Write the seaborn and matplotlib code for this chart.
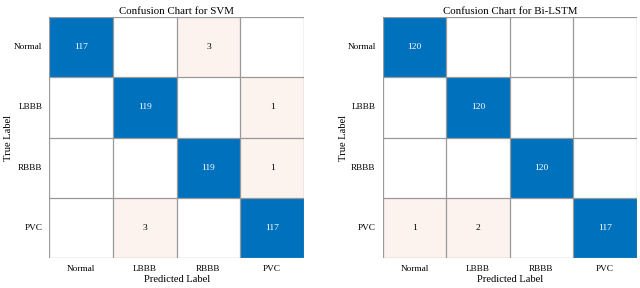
import numpy as np
import seaborn as sns
import matplotlib.pyplot as plt
from matplotlib.colors import ListedColormap

classes = ['Normal', 'LBBB', 'RBBB', 'PVC']
svm_counts = [[117, 0, 3, 0],
              [0, 119, 0, 1],
              [0, 0, 119, 1],
              [0, 3, 0, 117]]
lstm_counts = [[120, 0, 0, 0],
               [0, 120, 0, 0],
               [0, 0, 120, 0],
               [1, 2, 0, 117]]
titles = ['Confusion Chart for SVM', 'Confusion Chart for Bi-LSTM']

plt.rcParams['font.family'] = ['Liberation Serif', 'DejaVu Serif']

fig = plt.figure(figsize=(6.4, 2.88), dpi=100)
axes = [fig.add_axes([0.077, 0.104, 0.398, 0.837]),
        fig.add_axes([0.598, 0.104, 0.397, 0.837])]
ylabel_x = [-0.141, -0.138]

blue = ListedColormap(['#0072bd'])
pink = ListedColormap(['#fcf2ee'])

for ax, counts, title, lx in zip(axes, [svm_counts, lstm_counts], titles, ylabel_x):
    cm = np.array(counts)
    eye = np.eye(len(classes), dtype=bool)
    # diagonal cells
    sns.heatmap(cm, mask=~eye, cmap=blue, cbar=False, annot=True, fmt='d',
                annot_kws={'color': 'white', 'fontsize': 6.8}, ax=ax)
    # off-diagonal nonzero cells
    sns.heatmap(cm, mask=eye | (cm == 0), cmap=pink, cbar=False, annot=True, fmt='d',
                annot_kws={'color': 'black', 'fontsize': 6.8}, ax=ax)
    n = len(classes)
    ax.hlines(np.arange(n + 1), 0, n, color='#999999', linewidth=0.9)
    ax.vlines(np.arange(n + 1), 0, n, color='#999999', linewidth=0.9)
    ax.set_xticks(np.arange(n) + 0.5)
    ax.set_yticks(np.arange(n) + 0.5)
    ax.set_xticklabels(classes, fontsize=6.7)
    ax.set_yticklabels(classes, fontsize=6.7, rotation=0)
    ax.tick_params(length=0, pad=5)
    ax.set_title(title, fontsize=7.8, pad=2)
    ax.set_xlabel('Predicted Label', fontsize=7.6)
    ax.set_ylabel('True Label', fontsize=7.6)
    ax.xaxis.set_label_coords(0.5, -0.07)
    ax.yaxis.set_label_coords(lx, 0.5)

fig.savefig('out.png', dpi=100, facecolor='white')
